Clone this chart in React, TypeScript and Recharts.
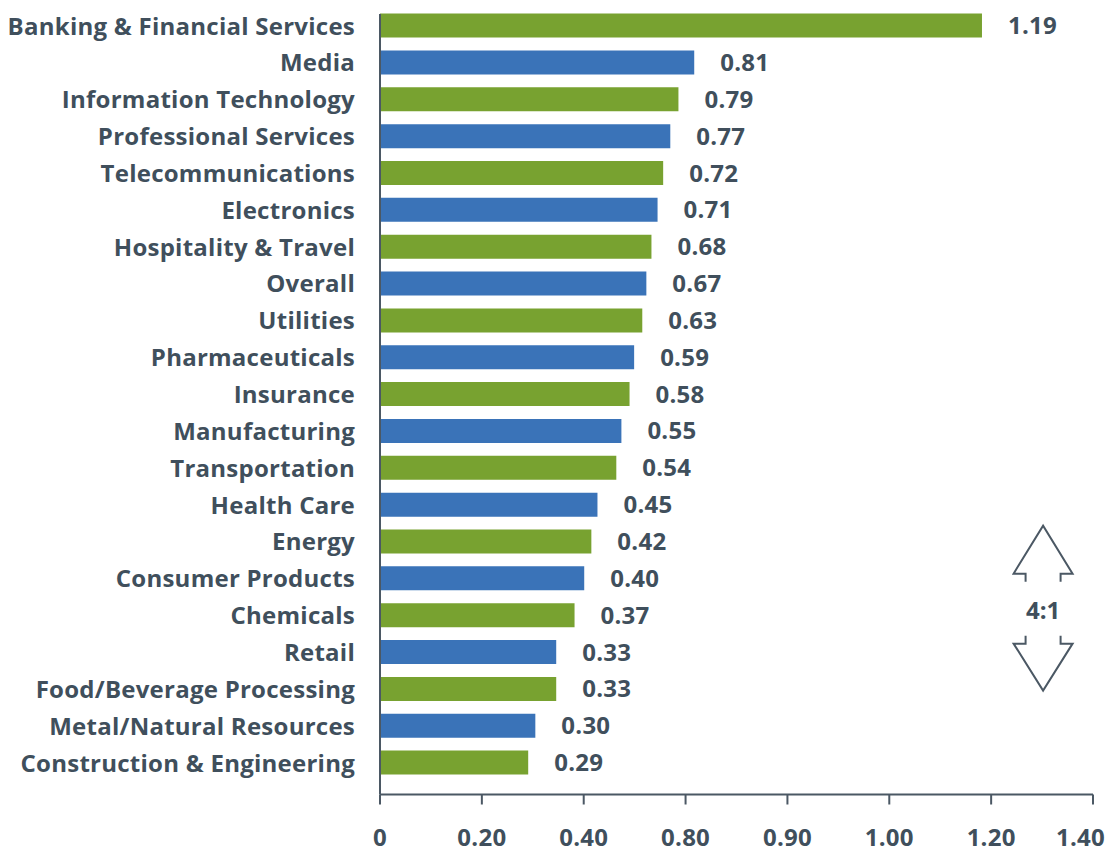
import React from 'react';
import { BarChart, Bar, XAxis, YAxis, Cell, LabelList, ReferenceDot } from 'recharts';

const categories = [
  'Banking & Financial Services',
  'Media',
  'Information Technology',
  'Professional Services',
  'Telecommunications',
  'Electronics',
  'Hospitality & Travel',
  'Overall',
  'Utilities',
  'Pharmaceuticals',
  'Insurance',
  'Manufacturing',
  'Transportation',
  'Health Care',
  'Energy',
  'Consumer Products',
  'Chemicals',
  'Retail',
  'Food/Beverage Processing',
  'Metal/Natural Resources',
  'Construction & Engineering',
];

// printed value labels
const printedValues = [1.19, 0.81, 0.79, 0.77, 0.72, 0.71, 0.68, 0.67, 0.63, 0.59, 0.58, 0.55, 0.54, 0.45, 0.42, 0.40, 0.37, 0.33, 0.33, 0.30, 0.29];

// bar lengths as read against the drawn axis
const barLengths = [1.182, 0.617, 0.586, 0.570, 0.556, 0.545, 0.533, 0.523, 0.515, 0.499, 0.490, 0.474, 0.464, 0.427, 0.415, 0.401, 0.382, 0.346, 0.346, 0.305, 0.291];

const seriesColors = ['#78A230', '#3A73B8'];

const xTicks = [0, 0.2, 0.4, 0.6, 0.8, 1.0, 1.2, 1.4];
const xTickLabels = ['0', '0.20', '0.40', '0.80', '0.90', '1.00', '1.20', '1.40'];

const data = categories.map((name, i) => ({ name, length: barLengths[i], label: printedValues[i] }));

const TEXT = '#404F5C';
const AXIS = '#4B5864';
const FONT = '"Open Sans", "Noto Sans", sans-serif';
const FS = 24;

const XTick = (props: any) => {
  const { x, y, payload, index } = props;
  const last = index === xTicks.length - 1;
  return (
    <text
      x={last ? x + 12 : x}
      y={y}
      dy="0.71em"
      textAnchor={last ? 'end' : 'middle'}
      fill={TEXT}
      fontSize={FS}
      fontWeight={700}
      fontFamily={FONT}
      letterSpacing={0.25}
    >
      {xTickLabels[index] ?? String(payload.value)}
    </text>
  );
};

const ArrowShape = (props: any) => {
  const cx = props.cx;
  const c = props.cy - 6;
  const hw = 29.5;
  const sw = 17.5;
  const up = `M ${cx - sw} ${c - 28} L ${cx - sw} ${c - 36} L ${cx - hw} ${c - 36} L ${cx} ${c - 84} L ${cx + hw} ${c - 36} L ${cx + sw} ${c - 36} L ${cx + sw} ${c - 28}`;
  const down = `M ${cx - sw} ${c + 26} L ${cx - sw} ${c + 34} L ${cx - hw} ${c + 34} L ${cx} ${c + 81} L ${cx + hw} ${c + 34} L ${cx + sw} ${c + 34} L ${cx + sw} ${c + 26}`;
  return (
    <g>
      <path d={up} fill="none" stroke={AXIS} strokeWidth={2} />
      <path d={down} fill="none" stroke={AXIS} strokeWidth={2} />
      <text x={cx} y={c} textAnchor="middle" dominantBaseline="central" fill={TEXT} fontSize={FS} fontWeight={700} fontFamily={FONT}>
        4:1
      </text>
    </g>
  );
};

export default function App() {
  return (
    <div style={{ position: 'absolute', left: 0, top: 0, width: 1111, height: 848, background: '#fff' }}>
      <BarChart
        width={1111}
        height={848}
        data={data}
        layout="vertical"
        margin={{ top: 14, right: 18, bottom: 0, left: 0 }}
      >
        <XAxis
          type="number"
          domain={[0, 1.4]}
          ticks={xTicks}
          height={53.5}
          tickSize={10}
          tickMargin={24}
          axisLine={{ stroke: AXIS, strokeWidth: 2 }}
          tickLine={{ stroke: AXIS, strokeWidth: 2 }}
          tick={<XTick />}
          interval={0}
        />
        <YAxis
          type="category"
          dataKey="name"
          width={380}
          padding={{ top: -6.4, bottom: 13.05 }}
          tickLine={false}
          tickSize={0}
          tickMargin={25}
          axisLine={{ stroke: AXIS, strokeWidth: 2 }}
          tick={{ fill: TEXT, fontSize: FS, fontWeight: 700, fontFamily: FONT, letterSpacing: 0.25 }}
          interval={0}
        />
        <Bar dataKey="length" barSize={24} isAnimationActive={false}>
          {data.map((d, i) => (
            <Cell key={d.name} fill={seriesColors[i % 2]} />
          ))}
          <LabelList
            dataKey="label"
            position="right"
            offset={26}
            formatter={(v: any) => Number(v).toFixed(2)}
            style={{ fill: TEXT, fontSize: FS, fontWeight: 700, fontFamily: FONT, letterSpacing: 0.25 }}
          />
        </Bar>
        <ReferenceDot x={1.302} y="Chemicals" r={0} shape={ArrowShape} ifOverflow="visible" />
      </BarChart>
    </div>
  );
}
